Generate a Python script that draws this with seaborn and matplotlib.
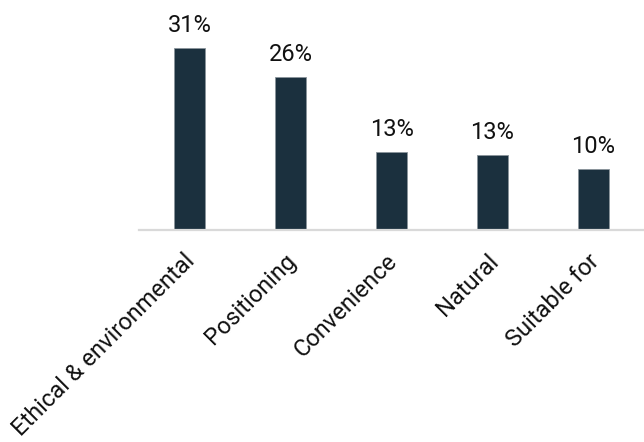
import matplotlib
matplotlib.use("Agg")
import matplotlib.pyplot as plt
import matplotlib.transforms as mtransforms
import seaborn as sns
import pandas as pd

# Values (percent)
categories = ["Ethical & environmental", "Positioning", "Convenience", "Natural", "Suitable for"]
shares = [31.0, 26.0, 13.3, 12.8, 10.4]

BAR_COLOR = "#1b303e"

sns.set_theme(style="white")
plt.rcParams['font.family'] = ['Roboto', 'DejaVu Sans']

df = pd.DataFrame({"category": categories, "share": shares})

fig = plt.figure(figsize=(6.44, 4.42), dpi=100)
ax = fig.add_axes([139 / 644, 212 / 442, 1 - 139 / 644, 1 - 212 / 442])

sns.barplot(data=df, x="category", y="share", color=BAR_COLOR, width=0.31,
            saturation=1, edgecolor="#8a949b", linewidth=0.6, ax=ax)

for i, v in enumerate(shares):
    ax.annotate(f"{round(v):.0f}%", (i, v), xytext=(0, 8), textcoords="offset points",
                ha="center", va="bottom", fontsize=17, color="#111111")

ax.set_ylim(0, 31 * 230 / 182)
ax.set_xlim(-0.5, 4.5)
ax.set_xlabel("")
ax.set_ylabel("")
ax.set_yticks([])
for side in ["top", "right", "left"]:
    ax.spines[side].set_visible(False)
ax.spines["bottom"].set_color("#d9d9d9")
ax.spines["bottom"].set_linewidth(1.6)
ax.tick_params(axis="x", length=0, pad=14)
ax.set_xticks(range(len(categories)))
ax.set_xticklabels(categories, rotation=45, ha="right", va="top",
                   rotation_mode="anchor", fontsize=17, color="#111111")

# nudge tick labels a little to the left, like the reference
shift = mtransforms.ScaledTranslation(-6 / 100, 0, fig.dpi_scale_trans)
for lbl in ax.get_xticklabels():
    lbl.set_transform(lbl.get_transform() + shift)

fig.savefig("out.png", dpi=100)
